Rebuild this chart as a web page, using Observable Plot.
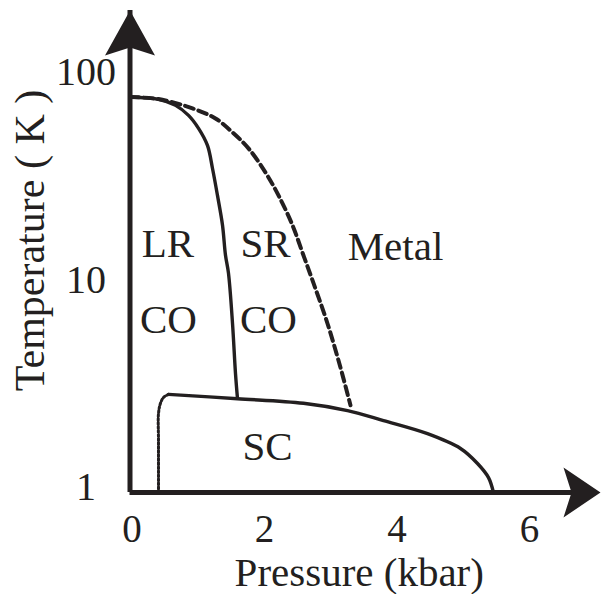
<!DOCTYPE html>
<html>
<head>
<meta charset="utf-8">
<script src="https://cdn.jsdelivr.net/npm/d3@7"></script>
<script src="https://cdn.jsdelivr.net/npm/@observablehq/plot@0.6"></script>
<style>
  html, body { margin: 0; padding: 0; background: #fff; }
  #chart { width: 602px; height: 594px; }
</style>
</head>
<body>
<div id="chart"></div>
<script>
// Tick labels
const pressureTicks = [0, 2, 4, 6];
const tempTicks = [1, 10, 100];

// Axis extents (kbar, K)
const pressureMax = 7.1;
const tempMin = 1;
const tempMax = 210;

// Long-range / short-range charge-order boundary (solid)
const lrP = [0, 0.43, 0.687, 0.883, 1.034, 1.169, 1.245, 1.32, 1.396, 1.441, 1.486, 1.547, 1.592, 1.622];
const lrT = [80.4, 78.3, 73.3, 65.6, 56.8, 47.0, 36.4, 27.0, 19.4, 13.9, 11.4, 6.52, 3.74, 2.84];

// Charge-order / metal crossover (dashed)
const coP = [0, 0.43, 0.943, 1.29, 1.547, 1.788, 2.045, 2.241, 2.452, 2.603, 2.769, 2.98, 3.176, 3.327];
const coT = [80.4, 78.6, 70.9, 63.4, 54.3, 45.5, 34.8, 27.0, 19.4, 14.3, 10.2, 6.52, 4.0, 2.63];

// Superconducting dome (solid)
const scP = [0.581, 1.622, 2.618, 3.282, 3.825, 4.489, 4.987, 5.244, 5.41, 5.485];
const scT = [2.97, 2.83, 2.69, 2.48, 2.22, 1.92, 1.63, 1.38, 1.18, 1.0];

// Low-pressure edge of the superconducting phase (dotted)
const edgeP = [0.581, 0.506, 0.46, 0.43, 0.43, 0.43];
const edgeT = [2.97, 2.87, 2.69, 2.40, 1.78, 1.0];

// Phase names and where they sit
const regionNames = ["LR", "CO", "SR", "CO", "Metal", "SC"];
const regionP = [0.573, 0.581, 2.045, 2.09, 4.006, 2.075];
const regionT = [15.7, 6.82, 15.7, 6.82, 15.2, 1.65];

const toPoints = (ps, ts) => ps.map((p, i) => ({p, t: ts[i]}));
const regions = regionNames.map((name, i) => ({name, p: regionP[i], t: regionT[i]}));

const serif = "'Liberation Serif', 'Times New Roman', Times, serif";
const ink = "#231f20";

// Filled arrowheads for the axis ends
const arrowUp = {
  draw(ctx) {
    ctx.moveTo(0, 0);
    ctx.lineTo(25, 45);
    ctx.lineTo(0, 37);
    ctx.lineTo(-25, 45);
    ctx.closePath();
  }
};
const arrowRight = {
  draw(ctx) {
    ctx.moveTo(0, 0);
    ctx.lineTo(-37, 25);
    ctx.lineTo(-29, 0);
    ctx.lineTo(-37, -25);
    ctx.closePath();
  }
};

const chart = Plot.plot({
  width: 602,
  height: 594,
  marginTop: 10,
  marginBottom: 102,
  marginLeft: 129.5,
  marginRight: 2,
  style: {fontFamily: serif, background: "#fff", color: ink},
  x: {domain: [0, pressureMax], axis: null},
  y: {type: "log", domain: [tempMin, tempMax], axis: null},
  marks: [
    Plot.line(toPoints(lrP, lrT), {x: "p", y: "t", curve: "catmull-rom", stroke: ink, strokeWidth: 3.4}),
    Plot.line(toPoints(coP, coT), {x: "p", y: "t", curve: "catmull-rom", stroke: ink, strokeWidth: 4, strokeDasharray: "9,5"}),
    Plot.line(toPoints(scP, scT), {x: "p", y: "t", curve: "catmull-rom", stroke: ink, strokeWidth: 3.4}),
    Plot.line(toPoints(edgeP, edgeT), {x: "p", y: "t", curve: "catmull-rom", stroke: ink, strokeWidth: 3, strokeDasharray: "2,2"}),
    // axis lines
    Plot.ruleY([tempMin], {x1: 0, x2: pressureMax - 0.3, stroke: ink, strokeWidth: 5}),
    Plot.ruleX([0], {y1: tempMin, y2: tempMax, stroke: ink, strokeWidth: 5}),
    Plot.dot([{p: 0, t: tempMax}], {x: "p", y: "t", symbol: arrowUp, r: 1, fill: ink, stroke: "none"}),
    Plot.dot([{p: pressureMax, t: tempMin}], {x: "p", y: "t", symbol: arrowRight, r: 1, fill: ink, stroke: "none"}),
    // tick labels
    Plot.axisX({ticks: pressureTicks, tickSize: 0, tickPadding: 0, lineAnchor: "middle", dy: 37, dx: 2, fontSize: 39, fontFamily: serif, label: null, fill: ink}),
    Plot.axisY({ticks: tempTicks, tickFormat: d => String(d), tickSize: 0, tickPadding: 0, textAnchor: "middle", dx: -44, dy: -5, fontSize: 40, fontFamily: serif, label: null, fill: ink}),
    // axis titles
    Plot.text(["Pressure (kbar)"], {frameAnchor: "bottom", lineAnchor: "middle", textAnchor: "middle", dy: 80, dx: -6, fontSize: 41, fontFamily: serif, fill: ink}),
    Plot.text(["Temperature ( K )"], {frameAnchor: "left", rotate: -90, textAnchor: "middle", lineAnchor: "middle", dx: -99.5, dy: -11, fontSize: 42, fontFamily: serif, fill: ink}),
    // phase labels
    Plot.text(regions, {x: "p", y: "t", text: "name", fontSize: 41, fontFamily: serif, fill: ink})
  ]
});

document.getElementById("chart").appendChild(chart);
</script>
</body>
</html>
